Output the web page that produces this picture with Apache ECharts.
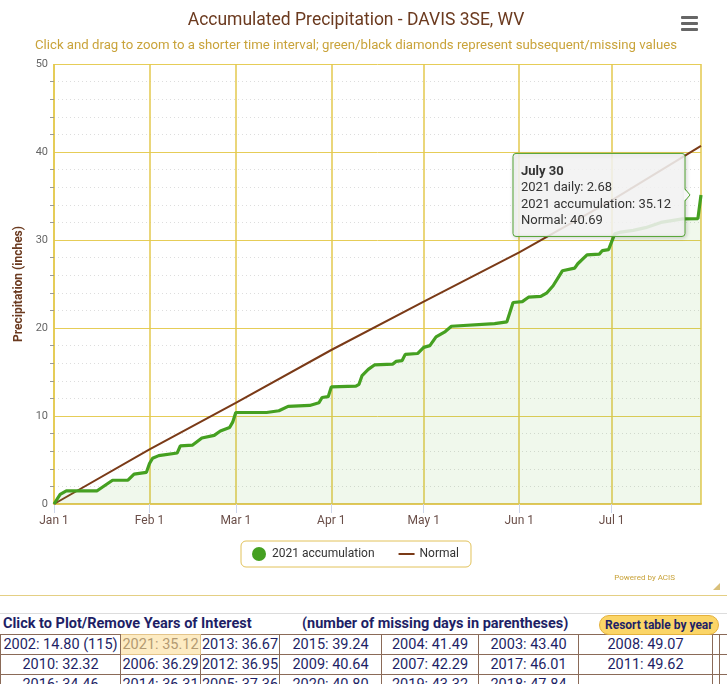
<!DOCTYPE html>
<html>
<head>
<meta charset="utf-8">
<script src="https://cdn.jsdelivr.net/npm/echarts@6/dist/echarts.min.js"></script>
<style>
html,body{margin:0;padding:0;background:#fff;overflow:hidden;width:727px;height:684px;font-family:Roboto,"Noto Sans",sans-serif}
#chart{position:absolute;left:0;top:0;width:727px;height:595px;border-bottom:1px solid #e4cf84}
#tblwrap{position:absolute;left:0;top:613px;width:780px}
#hdr{position:relative;height:20px;border-top:1px solid #ddd;font-weight:bold;color:#1e1f66;font-size:14.5px;line-height:20px}
#hdr .l{position:absolute;left:3px;top:0}
#hdr .m{position:absolute;left:302px;top:0}
#hdr .b{position:absolute;left:599px;top:1px;height:18px;line-height:18px;padding:0 5px;font-size:12px;background:#fbd567;border:1px solid #e4b13c;border-radius:10px;color:#1e1f66}
table{border-collapse:collapse;table-layout:fixed;font-size:14.5px;color:#1e1f66}
td{border:1px solid #8a6a58;height:19px;padding:0;text-align:center;white-space:nowrap;overflow:hidden;line-height:19px}
td.hl{background:#fdebc2;color:#b39a72;border-color:#e3c48a}
</style>
</head>
<body>
<div id="chart"></div>
<div id="tblwrap"></div>
<script>
// ---- data ----
const accumDates = ['2021-01-01','2021-01-03','2021-01-05','2021-01-15','2021-01-20','2021-01-25','2021-01-27','2021-01-31',
  '2021-02-01','2021-02-02','2021-02-04','2021-02-10','2021-02-11','2021-02-15','2021-02-18','2021-02-22','2021-02-24','2021-02-27','2021-02-28',
  '2021-03-01','2021-03-11','2021-03-15','2021-03-18','2021-03-25','2021-03-28','2021-03-29','2021-03-31',
  '2021-04-01','2021-04-09','2021-04-10','2021-04-11','2021-04-13','2021-04-15','2021-04-21','2021-04-22','2021-04-24','2021-04-25','2021-04-29',
  '2021-05-01','2021-05-03','2021-05-05','2021-05-08','2021-05-10','2021-05-24','2021-05-28','2021-05-30',
  '2021-06-02','2021-06-04','2021-06-08','2021-06-10','2021-06-12','2021-06-15','2021-06-19','2021-06-20','2021-06-23','2021-06-27','2021-06-28','2021-06-30',
  '2021-07-02','2021-07-04','2021-07-08','2021-07-12','2021-07-17','2021-07-24','2021-07-29','2021-07-30'];
const accumValues = [0,1.1,1.5,1.5,2.7,2.7,3.4,3.6,
  4.6,5.2,5.5,5.8,6.6,6.7,7.5,7.8,8.3,8.7,9.3,
  10.4,10.4,10.6,11.1,11.2,11.5,12.1,12.2,
  13.3,13.4,13.6,14.6,15.3,15.8,15.9,16.2,16.3,17.0,17.1,
  17.8,18.0,19.0,19.6,20.2,20.5,20.7,22.9,
  23.0,23.5,23.6,24.0,24.8,26.5,26.8,27.3,28.3,28.4,28.8,28.9,
  30.7,30.9,31.1,31.4,32.0,32.4,32.44,35.12];
const normalDates = ['2021-01-01','2021-02-01','2021-03-01','2021-04-01','2021-05-01','2021-06-01','2021-07-01','2021-07-30'];
const normalValues = [0,6.2,11.5,17.5,23.0,28.6,34.5,40.69];
const monthTickLabels = ['Jan 1','Feb 1','Mar 1','Apr 1','May 1','Jun 1','Jul 1','Aug 1'];
const monthFullNames = ['January','February','March','April','May','June','July','August'];
const yMin = 0, yMax = 50, yStep = 10;
const seriesNames = ['2021 accumulation','Normal'];
const tableRows = [
  ['2002: 14.80 (115)','2021: 35.12','2013: 36.67','2015: 39.24','2004: 41.49','2003: 43.40','2008: 49.07','',''],
  ['2010: 32.32','2006: 36.29','2012: 36.95','2009: 40.64','2007: 42.29','2017: 46.01','2011: 49.62','',''],
  ['2016: 34.46','2014: 36.31','2005: 37.36','2020: 40.80','2019: 43.32','2018: 47.84','','','']
];

function toTime(s){const p=s.split('-').map(Number);return new Date(p[0],p[1]-1,p[2]).getTime();}
const accumData = accumDates.map((d,i)=>[toTime(d),accumValues[i]]);
const normalData = normalDates.map((d,i)=>[toTime(d),normalValues[i]]);

const chart = echarts.init(document.getElementById('chart'), null, {renderer:'canvas'});
const gold = '#e6cd58';
chart.setOption({
  backgroundColor:'#ffffff',
  animation:false,
  textStyle:{fontFamily:'Roboto'},
  title:{
    text:'Accumulated Precipitation - DAVIS 3SE, WV',
    subtext:'Click and drag to zoom to a shorter time interval; green/black diamonds represent subsequent/missing values',
    left:351, textAlign:'center', top:7, itemGap:9,
    textStyle:{fontSize:17.5,fontWeight:'normal',color:'#6b3a1f',fontFamily:'Roboto'},
    subtextStyle:{fontSize:13.2,color:'#c9a33a',fontFamily:'Roboto'}
  },
  legend:{
    top:541, left:241,
    data:[{name:seriesNames[0],icon:'circle'},{name:seriesNames[1],icon:'path://M0 0H16V2H0Z'}],
    itemWidth:16, itemHeight:14, itemGap:24,
    borderColor:'#e2c25a', borderWidth:1, borderRadius:5, padding:[6,12,6,11],
    textStyle:{fontSize:12,color:'#333',fontFamily:'Roboto'}
  },
  grid:{left:54,right:26,top:64,bottom:91},
  xAxis:{
    type:'time',
    min:toTime(normalDates[0]), max:toTime(normalDates[normalDates.length-1]),
    minInterval:28*86400000, maxInterval:31*86400000,
    axisLine:{show:true,lineStyle:{color:'#e3c85a',width:2}},
    axisTick:{show:true,length:9,lineStyle:{color:'#ccd6eb'}},
    axisLabel:{color:'#6a4e48',fontSize:12,margin:11,fontFamily:'Roboto',
      formatter:function(v){const d=new Date(v);return d.getDate()===1?monthTickLabels[d.getMonth()]:'';}},
    splitLine:{show:true,lineStyle:{color:'#e3c84e',width:1.5}}
  },
  yAxis:{
    type:'value', min:yMin, max:yMax, interval:yStep,
    name:'Precipitation (inches)', nameLocation:'middle', nameGap:29, nameRotate:90,
    nameTextStyle:{fontSize:12,fontWeight:'bold',color:'#6b3a1f',fontFamily:'Roboto'},
    axisLine:{show:false},
    axisTick:{show:false},
    axisLabel:{color:'#666',fontSize:11,margin:6,fontFamily:'Roboto'},
    splitLine:{show:true,lineStyle:{color:gold,width:1}},
    minorTick:{show:true,splitNumber:5,length:4,lineStyle:{color:'#999'}},
    minorSplitLine:{show:true,lineStyle:{color:'#dddddd',type:[1,3],width:1}}
  },
  series:[
    {name:seriesNames[0],type:'line',data:accumData,showSymbol:false,symbol:'circle',
     itemStyle:{color:'#45a021'},lineStyle:{color:'#45a021',width:3.2},
     areaStyle:{color:'rgba(110,190,80,0.15)'},z:3},
    {name:seriesNames[1],type:'line',data:normalData,showSymbol:false,
     itemStyle:{color:'#7a3a17'},lineStyle:{color:'#7a3a17',width:2},z:2}
  ]
});

// static tooltip box at the last point, positioned through the chart's scales
const li = accumData.length-1;
const pt = chart.convertToPixel({gridIndex:0},[accumData[li][0],accumData[li][1]]);
const bw=172,bh=83;
const bx=pt[0]-16-bw, by=pt[1]-bh/2;
const lastD = new Date(accumData[li][0]);
const daily = (accumValues[li]-accumValues[li-1]).toFixed(2);
const tStyle={fontSize:13,fill:'#333',fontFamily:'Roboto'};
chart.setOption({graphic:[
  {type:'rect',z:100,shape:{x:bx,y:by,width:bw,height:bh,r:3},
   style:{fill:'rgba(247,247,247,0.86)',stroke:'#52a332',lineWidth:1,shadowBlur:4,shadowOffsetX:1,shadowOffsetY:1,shadowColor:'rgba(0,0,0,0.18)'}},
  {type:'polygon',z:101,shape:{points:[[bx+bw-1,pt[1]-6],[bx+bw+5,pt[1]],[bx+bw-1,pt[1]+6]]},style:{fill:'rgba(247,247,247,1)'}},
  {type:'polyline',z:101,shape:{points:[[bx+bw,pt[1]-6],[bx+bw+5,pt[1]],[bx+bw,pt[1]+6]]},style:{stroke:'#52a332',lineWidth:1,fill:null}},
  {type:'text',z:102,x:bx+8,y:by+18,style:Object.assign({},tStyle,{text:monthFullNames[lastD.getMonth()]+' '+lastD.getDate(),fontWeight:'bold',verticalAlign:'middle'})},
  {type:'text',z:102,x:bx+8,y:by+34.5,style:Object.assign({},tStyle,{text:'2021 daily: '+daily,verticalAlign:'middle'})},
  {type:'text',z:102,x:bx+8,y:by+51,style:Object.assign({},tStyle,{text:'2021 accumulation: '+accumValues[li].toFixed(2),verticalAlign:'middle'})},
  {type:'text',z:102,x:bx+8,y:by+67.5,style:Object.assign({},tStyle,{text:'Normal: '+normalValues[normalValues.length-1].toFixed(2),verticalAlign:'middle'})},
  // menu icon
  {type:'rect',z:50,shape:{x:681,y:16,width:17,height:3,r:1},style:{fill:'#666'}},
  {type:'rect',z:50,shape:{x:681,y:22,width:17,height:3,r:1},style:{fill:'#666'}},
  {type:'rect',z:50,shape:{x:681,y:28,width:17,height:3,r:1},style:{fill:'#666'}},
  {type:'text',z:50,x:675,y:578,style:{text:'Powered by ACIS',fontSize:8,fill:'#c9a33a',fontFamily:'Roboto',align:'right',verticalAlign:'middle'}},
  {type:'polygon',z:50,shape:{points:[[720,583],[720,590],[713,590]]},style:{fill:'#d9c07a'}}
]});

// table of years
let html='<div id="hdr"><span class="l">Click to Plot/Remove Years of Interest</span><span class="m">(number of missing days in parentheses)</span><span class="b">Resort table by year</span></div>';
const colW=[120,80,79,102,97,100,134,7,40];
html+='<table><colgroup>'+colW.map(w=>'<col style="width:'+w+'px">').join('')+'</colgroup>';
tableRows.forEach(r=>{html+='<tr>'+r.map(c=>'<td'+(c.indexOf('2021:')===0?' class="hl"':'')+'>'+c+'</td>').join('')+'</tr>';});
html+='</table>';
document.getElementById('tblwrap').innerHTML=html;
</script>
</body>
</html>
